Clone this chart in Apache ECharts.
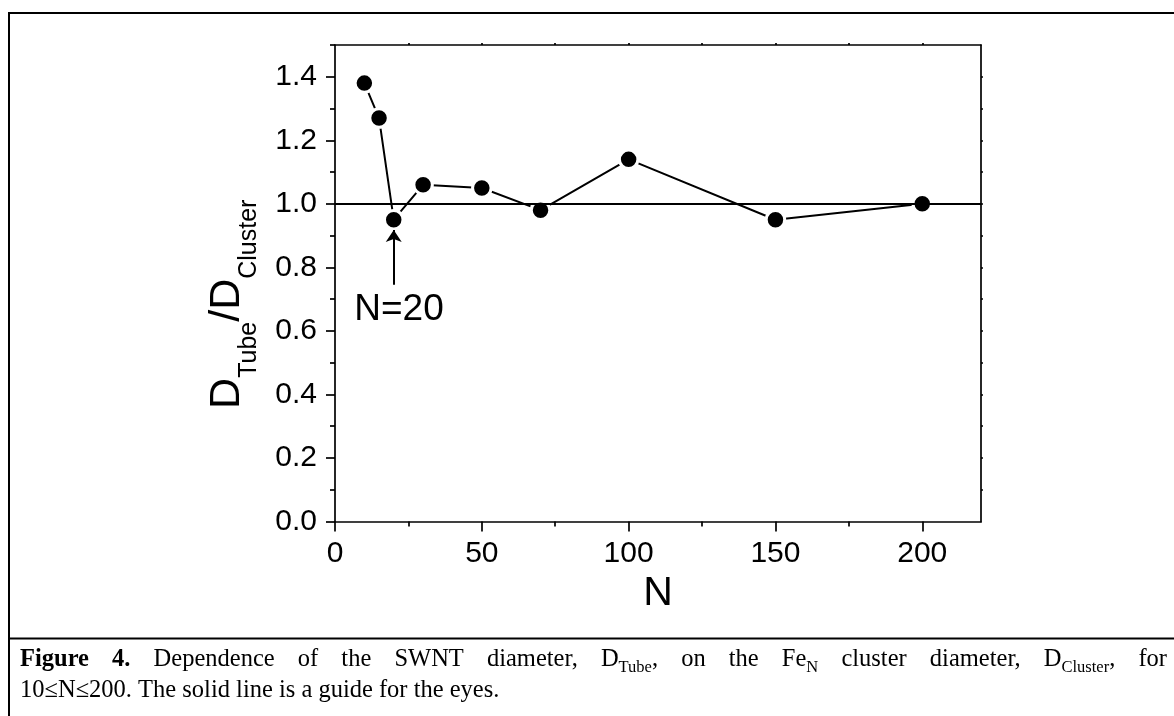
<!DOCTYPE html>
<html>
<head>
<meta charset="utf-8">
<script src="https://cdn.jsdelivr.net/npm/echarts@6/dist/echarts.min.js"></script>
<style>
html,body{margin:0;padding:0;background:#fff;}
#chart{width:1174px;height:716px;}
</style>
</head>
<body>
<div id="chart"></div>
<script>
// ---- data ----
const clusterSize = [10, 15, 20, 30, 50, 70, 100, 150, 200];
const diameterRatio = [1.38, 1.27, 0.95, 1.06, 1.05, 0.98, 1.14, 0.95, 1.00];
const guideValue = 1.0;
const xTickLabels = [0, 50, 100, 150, 200];
const xMinorTicks = [25, 75, 125, 175];
const xTopTicks = [25, 50, 75, 100, 125, 150, 175, 200];
const yTickLabels = [0, 0.2, 0.4, 0.6, 0.8, 1.0, 1.2, 1.4];
const yMinorTicks = [0.1, 0.3, 0.5, 0.7, 0.9, 1.1, 1.3, 1.5];
const yRightTicks = [0.1, 0.2, 0.3, 0.4, 0.5, 0.6, 0.7, 0.8, 0.9, 1.0, 1.1, 1.2, 1.3, 1.4];
const arrowFrom = [20, 0.745];
const arrowTo = [20, 0.918];
const annotText = 'N=20';
const annotAt = [21.8, 0.665];
const captionLine1 = [
  [['Figure', 'b']], [['4.', 'b']], [['Dependence', 'n']], [['of', 'n']], [['the', 'n']],
  [['SWNT', 'n']], [['diameter,', 'n']], [['D', 'n'], ['Tube', 's'], [',', 'n']],
  [['on', 'n']], [['the', 'n']], [['Fe', 'n'], ['N', 's']], [['cluster', 'n']],
  [['diameter,', 'n']], [['D', 'n'], ['Cluster', 's'], [',', 'n']], [['for', 'n']]
];
const captionLine2 = '10≤N≤200. The solid line is a guide for the eyes.';

// ---- styling ----
const SANS = '"Liberation Sans", Arial, sans-serif';
const SERIF = '"Liberation Serif", "Times New Roman", serif';
const AX = 1.7;
const capSize = 24.5, subSize = 16.5, subPad = 4;
const capX0 = 20, capX1 = 1167;
const capY1 = 676, capY2 = 707; // bottoms of the text lines

const chart = echarts.init(document.getElementById('chart'), null, {renderer: 'canvas'});

// caption justification
const mctx = document.createElement('canvas').getContext('2d');
function pieceWidth(text, kind) {
  const size = kind === 's' ? subSize : capSize;
  mctx.font = (kind === 'b' ? 'bold ' : '') + size + 'px ' + SERIF;
  return mctx.measureText(text).width;
}
const capRich = {
  b: {fontFamily: SERIF, fontSize: capSize, fontWeight: 'bold', fill: '#000', padding: [0, 0, subPad, 0], verticalAlign: 'bottom'},
  n: {fontFamily: SERIF, fontSize: capSize, fill: '#000', padding: [0, 0, subPad, 0], verticalAlign: 'bottom'},
  s: {fontFamily: SERIF, fontSize: subSize, fill: '#000', verticalAlign: 'bottom'}
};
const wordWidths = captionLine1.map(w => w.reduce((a, p) => a + pieceWidth(p[0], p[1]), 0));
const totalW = wordWidths.reduce((a, b) => a + b, 0);
const gap = (capX1 - capX0 - totalW) / (captionLine1.length - 1);
const graphics = [];
let cx = capX0;
captionLine1.forEach((w, i) => {
  graphics.push({
    type: 'text', x: cx, y: capY1, silent: true,
    style: {
      text: w.map(p => '{' + p[1] + '|' + p[0] + '}').join(''),
      rich: capRich, align: 'left', textAlign: 'left', verticalAlign: 'bottom', textVerticalAlign: 'bottom'
    }
  });
  cx += wordWidths[i] + gap;
});
graphics.push({
  type: 'text', x: capX0, y: capY2, silent: true,
  style: {
    text: '{n|' + captionLine2 + '}', rich: capRich,
    align: 'left', textAlign: 'left', verticalAlign: 'bottom', textVerticalAlign: 'bottom'
  }
});
// frame lines
const frameStyle = {stroke: '#000', lineWidth: 2};
graphics.push({type: 'line', silent: true, shape: {x1: 8, y1: 13, x2: 1174, y2: 13}, style: frameStyle});
graphics.push({type: 'line', silent: true, shape: {x1: 9, y1: 12, x2: 9, y2: 716}, style: frameStyle});
graphics.push({type: 'line', silent: true, shape: {x1: 8, y1: 638.5, x2: 1174, y2: 638.5}, style: frameStyle});

const baseX = {type: 'value', min: 0, max: 220, interval: 50, splitLine: {show: false}};
const baseY = {type: 'value', min: 0, max: 1.5, interval: 0.1, splitLine: {show: false}};

const option = {
  animation: false,
  backgroundColor: '#fff',
  grid: {left: 335, top: 45, right: 193, bottom: 194.5, containLabel: false, outerBoundsMode: 'none'},
  xAxis: [
    Object.assign({}, baseX, {
      position: 'bottom',
      axisLine: {show: true, onZero: false, lineStyle: {color: '#000', width: AX}},
      axisTick: {show: true, inside: false, length: 10, customValues: xTickLabels, lineStyle: {color: '#000', width: AX}},
      axisLabel: {show: true, customValues: xTickLabels, fontSize: 30, fontFamily: SANS, color: '#000', margin: 17},
      name: 'N', nameLocation: 'middle', nameGap: 47,
      nameTextStyle: {fontSize: 41, fontFamily: SANS, color: '#000'}
    }),
    Object.assign({}, baseX, {
      position: 'bottom',
      axisLine: {show: false, onZero: false},
      axisTick: {show: true, inside: false, length: 5, customValues: xMinorTicks, lineStyle: {color: '#000', width: AX}},
      axisLabel: {show: false}
    }),
    Object.assign({}, baseX, {
      position: 'top',
      axisLine: {show: true, onZero: false, lineStyle: {color: '#000', width: AX}},
      axisTick: {show: true, inside: false, length: 2, customValues: xTopTicks, lineStyle: {color: '#000', width: AX}},
      axisLabel: {show: false}
    })
  ],
  yAxis: [
    Object.assign({}, baseY, {
      position: 'left',
      axisLine: {show: true, onZero: false, lineStyle: {color: '#000', width: AX}},
      axisTick: {show: true, inside: false, length: 9, customValues: yTickLabels, lineStyle: {color: '#000', width: AX}},
      axisLabel: {show: true, customValues: yTickLabels, fontSize: 30, fontFamily: SANS, color: '#000', margin: 18,
        formatter: v => Number(v).toFixed(1)},
      name: '{D|D}{s|Tube}{D|/D}{s|Cluster}', nameLocation: 'middle', nameGap: 73, nameRotate: 90,
      nameTextStyle: {
        color: '#000', fontFamily: SANS, padding: [0, 42, 0, 0],
        rich: {
          D: {fontSize: 43, fontFamily: SANS, color: '#000', padding: [0, 0, 13, 0], verticalAlign: 'bottom'},
          s: {fontSize: 25, fontFamily: SANS, color: '#000', verticalAlign: 'bottom'}
        }
      }
    }),
    Object.assign({}, baseY, {
      position: 'left',
      axisLine: {show: false, onZero: false},
      axisTick: {show: true, inside: false, length: 5, customValues: yMinorTicks, lineStyle: {color: '#000', width: AX}},
      axisLabel: {show: false}
    }),
    Object.assign({}, baseY, {
      position: 'right',
      axisLine: {show: true, onZero: false, lineStyle: {color: '#000', width: AX}},
      axisTick: {show: true, inside: false, length: 2, customValues: yRightTicks, lineStyle: {color: '#000', width: AX}},
      axisLabel: {show: false}
    })
  ],
  series: [
    {
      type: 'line',
      xAxisIndex: 0, yAxisIndex: 0,
      data: clusterSize.map((n, i) => [n, diameterRatio[i]]),
      symbol: 'circle', symbolSize: 18.5, showSymbol: true,
      lineStyle: {color: '#000', width: 2},
      itemStyle: {color: '#000', borderColor: '#fff', borderWidth: 3},
      z: 2, silent: true
    },
    {
      type: 'line', xAxisIndex: 0, yAxisIndex: 0, data: [], silent: true,
      markLine: {
        silent: true, symbol: ['none', 'none'], animation: false,
        label: {show: false},
        lineStyle: {color: '#000', width: 2, type: 'solid'},
        data: [{yAxis: guideValue}]
      }
    },
    {
      type: 'line', xAxisIndex: 0, yAxisIndex: 0, data: [], silent: true,
      markLine: {
        silent: true, symbol: ['none', 'arrow'], symbolSize: 12, animation: false,
        label: {show: false},
        lineStyle: {color: '#000', width: 2, type: 'solid'},
        data: [[{coord: arrowFrom}, {coord: arrowTo}]]
      },
      markPoint: {
        silent: true, animation: false,
        symbol: 'circle', symbolSize: 1,
        itemStyle: {color: 'rgba(0,0,0,0)'},
        label: {show: true, position: 'inside', formatter: annotText, fontSize: 37, fontFamily: SANS, color: '#000'},
        data: [{coord: annotAt}]
      }
    }
  ],
  graphic: graphics
};
chart.setOption(option);
</script>
</body>
</html>
